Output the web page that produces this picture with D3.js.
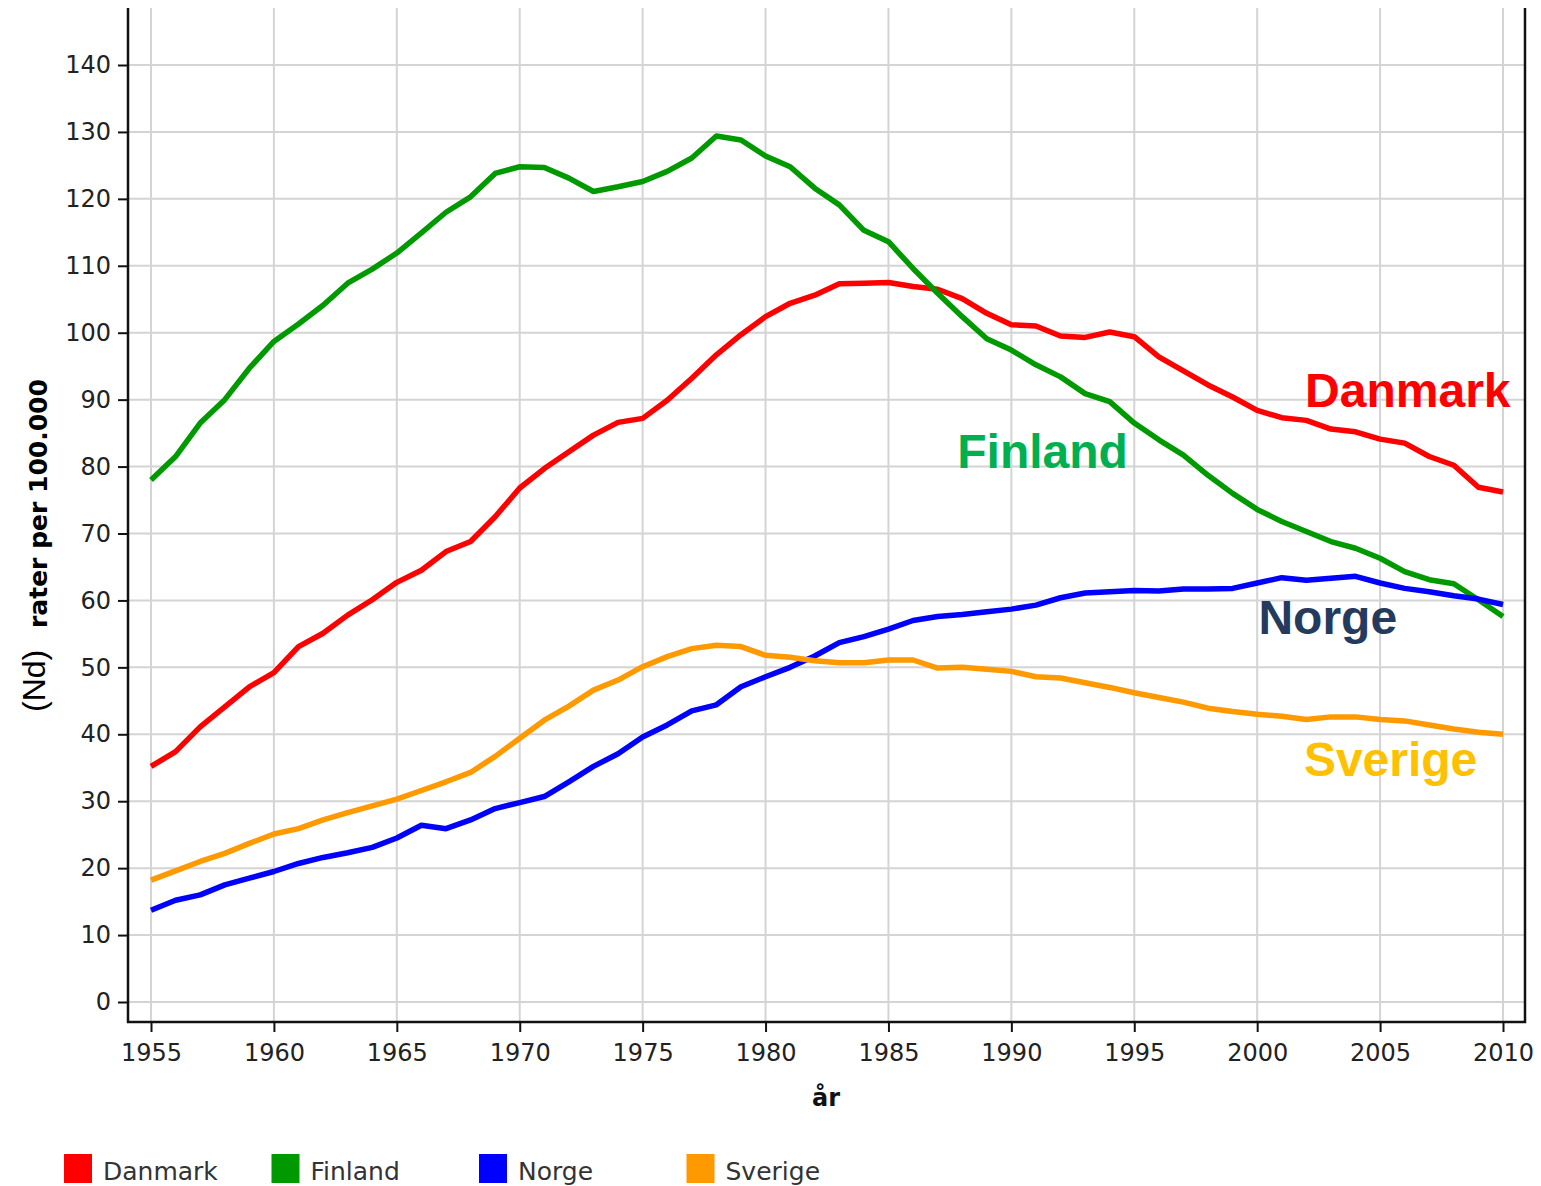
<!DOCTYPE html>
<html lang="no">
	<head>
		<meta charset="utf-8">
		<title>D3: rater per 100.000, Norden 1955-2010</title>
		<script type="text/javascript" src="https://d3js.org/d3.v7.min.js"></script>
		<style type="text/css">
			body { margin: 0; background: #fff; }
			.tick text { font-family: "DejaVu Sans", sans-serif; font-size: 24px; fill: #222; }
			.grid line { stroke: #d4d4d4; stroke-width: 2; }
		</style>
	</head>
	<body>
		<script type="text/javascript">

			//Data
			var years = d3.range(1955, 2011);

			var danmark = [35.2, 37.4, 41.1, 44.1, 47.1, 49.2, 53.1, 55.1, 57.8, 60.1,
				62.7, 64.5, 67.3, 68.8, 72.5, 76.8, 79.7, 82.2, 84.7, 86.6,
				87.2, 89.9, 93.2, 96.7, 99.7, 102.4, 104.4, 105.6, 107.3, 107.4,
				107.5, 106.9, 106.5, 105.1, 102.9, 101.2, 101.0, 99.5, 99.3, 100.1,
				99.4, 96.4, 94.3, 92.2, 90.4, 88.4, 87.3, 86.9, 85.6, 85.2,
				84.1, 83.5, 81.5, 80.2, 76.9, 76.2];

			var finland = [78.0, 81.5, 86.5, 90.0, 94.7, 98.7, 101.3, 104.1, 107.4, 109.5,
				111.9, 114.9, 118.0, 120.3, 123.8, 124.8, 124.7, 123.1, 121.1, 121.8,
				122.6, 124.1, 126.1, 129.4, 128.8, 126.4, 124.8, 121.6, 119.1, 115.3,
				113.6, 109.6, 105.9, 102.4, 99.1, 97.4, 95.2, 93.4, 90.9, 89.7,
				86.5, 84.0, 81.7, 78.7, 76.0, 73.6, 71.8, 70.3, 68.8, 67.8,
				66.3, 64.3, 63.1, 62.5, 60.1, 57.6];

			var norge = [13.7, 15.2, 16.0, 17.5, 18.5, 19.5, 20.7, 21.6, 22.3, 23.1,
				24.5, 26.4, 25.9, 27.2, 28.9, 29.8, 30.7, 32.9, 35.2, 37.1,
				39.6, 41.4, 43.5, 44.4, 47.1, 48.6, 50.0, 51.7, 53.7, 54.6,
				55.7, 57.0, 57.6, 57.9, 58.3, 58.7, 59.3, 60.4, 61.1, 61.3,
				61.5, 61.4, 61.7, 61.7, 61.8, 62.6, 63.4, 63.0, 63.3, 63.6,
				62.6, 61.8, 61.3, 60.7, 60.2, 59.4];

			var sverige = [18.2, 19.6, 21.0, 22.2, 23.7, 25.1, 25.9, 27.2, 28.3, 29.3,
				30.3, 31.6, 32.9, 34.3, 36.7, 39.4, 42.1, 44.2, 46.6, 48.1,
				50.1, 51.6, 52.8, 53.3, 53.1, 51.8, 51.5, 51.0, 50.7, 50.7,
				51.1, 51.1, 49.9, 50.0, 49.7, 49.4, 48.6, 48.4, 47.7, 47.0,
				46.2, 45.5, 44.8, 43.9, 43.4, 43.0, 42.7, 42.2, 42.6, 42.6,
				42.2, 42.0, 41.4, 40.8, 40.3, 40.0];

			var countries = ["Danmark", "Finland", "Norge", "Sverige"];
			var values = [danmark, finland, norge, sverige];
			var lineColors = ["#ff0000", "#009a00", "#0000ff", "#ff9900"];

			// big text labels inside the plot (year, value)
			var labelYears = [2001.95, 1987.8, 2000.05, 2001.9];
			var labelValues = [88.9, 79.8, 55.0, 33.8];
			var labelColors = ["#ff0000", "#00b050", "#243b5e", "#ffc000"];

			var xTicks = d3.range(1955, 2011, 5);
			var yTicks = d3.range(0, 141, 10);

			//Size
			var w = 1541;
			var h = 1186;
			var plot = { left: 128, right: 1525, top: 8, bottom: 1022 };

			//Scales
			var xScale = d3.scaleLinear()
				.domain([1955, 2010])
				.range([151, 1503]);

			var yScale = d3.scaleLinear()
				.domain([0, 140])
				.range([1002, 65]);

			var svg = d3.select("body")
				.append("svg")
				.attr("width", w)
				.attr("height", h);

			//Grid
			var grid = svg.append("g").attr("class", "grid");

			grid.selectAll("line.v")
				.data(xTicks)
				.enter()
				.append("line")
				.attr("class", "v")
				.attr("x1", function(d) { return xScale(d); })
				.attr("x2", function(d) { return xScale(d); })
				.attr("y1", plot.top)
				.attr("y2", plot.bottom);

			grid.selectAll("line.h")
				.data(yTicks)
				.enter()
				.append("line")
				.attr("class", "h")
				.attr("x1", plot.left)
				.attr("x2", plot.right)
				.attr("y1", function(d) { return yScale(d); })
				.attr("y2", function(d) { return yScale(d); });

			//Axes
			var xAxis = d3.axisBottom(xScale)
				.tickValues(xTicks)
				.tickFormat(d3.format("d"))
				.tickSize(10)
				.tickPadding(12);

			var yAxis = d3.axisLeft(yScale)
				.tickValues(yTicks)
				.tickSize(10)
				.tickPadding(7);

			var gx = svg.append("g")
				.attr("transform", "translate(0," + plot.bottom + ")")
				.call(xAxis);

			var gy = svg.append("g")
				.attr("transform", "translate(" + plot.left + ",0)")
				.call(yAxis);

			gx.select(".domain").remove();
			gy.select(".domain").remove();
			svg.selectAll(".tick line").attr("stroke", "#111").attr("stroke-width", 2);

			//Frame
			svg.append("path")
				.attr("d", "M" + plot.left + "," + plot.top + "V" + plot.bottom + "H" + plot.right + "V" + plot.top)
				.attr("fill", "none")
				.attr("stroke", "#111")
				.attr("stroke-width", 2.5);

			//Lines
			var line = d3.line()
				.x(function(d, i) { return xScale(years[i]); })
				.y(function(d) { return yScale(d); });

			svg.selectAll("path.serie")
				.data(values)
				.enter()
				.append("path")
				.attr("class", "serie")
				.attr("d", line)
				.attr("fill", "none")
				.attr("stroke", function(d, i) { return lineColors[i]; })
				.attr("stroke-width", 5.5)
				.attr("stroke-linejoin", "round");

			//Country labels
			svg.selectAll("text.name")
				.data(countries)
				.enter()
				.append("text")
				.attr("class", "name")
				.attr("x", function(d, i) { return xScale(labelYears[i]); })
				.attr("y", function(d, i) { return yScale(labelValues[i]); })
				.attr("fill", function(d, i) { return labelColors[i]; })
				.style("font-family", "'Liberation Sans', Arial, sans-serif")
				.style("font-weight", "bold")
				.style("font-size", "48px")
				.text(function(d) { return d; });

			//Axis titles
			svg.append("text")
				.attr("x", 826)
				.attr("y", 1106)
				.attr("text-anchor", "middle")
				.style("font-family", "'DejaVu Sans', sans-serif")
				.style("font-weight", "bold")
				.style("font-size", "24px")
				.attr("fill", "#111")
				.text("år");

			svg.append("text")
				.attr("transform", "translate(45,712) rotate(-90)")
				.style("font-family", "'Liberation Sans', Arial, sans-serif")
				.style("font-size", "32px")
				.attr("fill", "#000")
				.text("(Nd)");

			svg.append("text")
				.attr("transform", "translate(47,628) rotate(-90)")
				.style("font-family", "'DejaVu Sans', sans-serif")
				.style("font-weight", "bold")
				.style("font-size", "25px")
				.attr("fill", "#000")
				.text("rater per 100.000");

			//Legend
			var legend = svg.selectAll("g.legend")
				.data(countries)
				.enter()
				.append("g")
				.attr("class", "legend")
				.attr("transform", function(d, i) { return "translate(" + (64 + i * 207.5) + ",1154)"; });

			legend.append("rect")
				.attr("width", 28)
				.attr("height", 29)
				.attr("fill", function(d, i) { return lineColors[i]; });

			legend.append("text")
				.attr("x", 39)
				.attr("y", 26)
				.style("font-family", "'DejaVu Sans', sans-serif")
				.style("font-size", "25px")
				.attr("fill", "#333")
				.text(function(d) { return d; });

		</script>
	</body>
</html>
